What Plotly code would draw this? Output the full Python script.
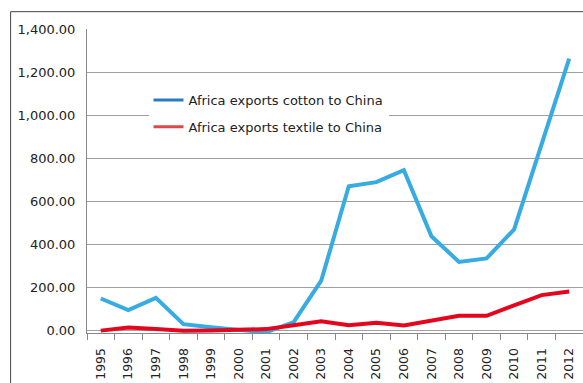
import plotly.graph_objects as go

years = [str(y) for y in range(1995, 2013)]
cotton = [149, 95, 152, 30, 16, 3, -8, 40, 232, 670, 689, 745, 438, 319, 335, 470, 867, 1263]
textile = [0, 15, 7, 0, 1, 2, 7, 25, 43, 25, 36, 24, 47, 69, 69, 115, 165, 182]
series_names = ["Africa exports cotton to China", "Africa exports textile to China"]
line_colors = ["#37abe2", "#e3061d"]
legend_colors = ["#2a7cc0", "#e04848"]
y_ticks = [0, 200, 400, 600, 800, 1000, 1200, 1400]

fig = go.Figure()
for vals, col in zip([cotton, textile], line_colors):
    fig.add_trace(go.Scatter(x=years, y=vals, mode="lines",
                             line=dict(color=col, width=4), showlegend=False))
for i, (name, col) in enumerate(zip(series_names, legend_colors)):
    fig.add_trace(go.Scatter(x=[None], y=[None], mode="lines", name=name,
                             line=dict(color=col, width=3), legendgroup=f"g{i}"))

fig.update_layout(
    width=583, height=383,
    margin=dict(l=87.3, r=0, t=29.3, b=49.7),
    paper_bgcolor="white", plot_bgcolor="white",
    font=dict(family="DejaVu Sans", size=13, color="#222"),
    legend=dict(x=0.124, y=0.816, xanchor="left", yanchor="top",
                bgcolor="white", tracegroupgap=7,
                font=dict(family="DejaVu Sans", size=13, color="#222")),
    shapes=[dict(type="rect", xref="paper", yref="paper",
                 x0=-0.154, x1=1.2, y0=-0.3, y1=1.057,
                 line=dict(color="#444", width=1), fillcolor="rgba(0,0,0,0)",
                 layer="below")],
)
fig.update_xaxes(type="category", range=[-0.5, len(years) - 0.5],
                 tickson="boundaries", ticks="outside", ticklen=6,
                 tickcolor="#888", showline=True, linecolor="#888", linewidth=1,
                 showgrid=False, tickangle=-90, tickfont=dict(size=12.5),
                 ticklabelstandoff=9, automargin=False)
fig.update_yaxes(range=[-11, 1400], tickvals=y_ticks, tickformat=",.2f",
                 showgrid=True, gridcolor="#a0a0a0", gridwidth=1,
                 showline=True, linecolor="#888", linewidth=1, zeroline=False,
                 ticks="outside", ticklen=0, ticklabelstandoff=8, automargin=False)

fig.write_html("out.html", config={"displayModeBar": False},
               post_script="document.body.style.margin='0';document.body.style.overflow='hidden';")
